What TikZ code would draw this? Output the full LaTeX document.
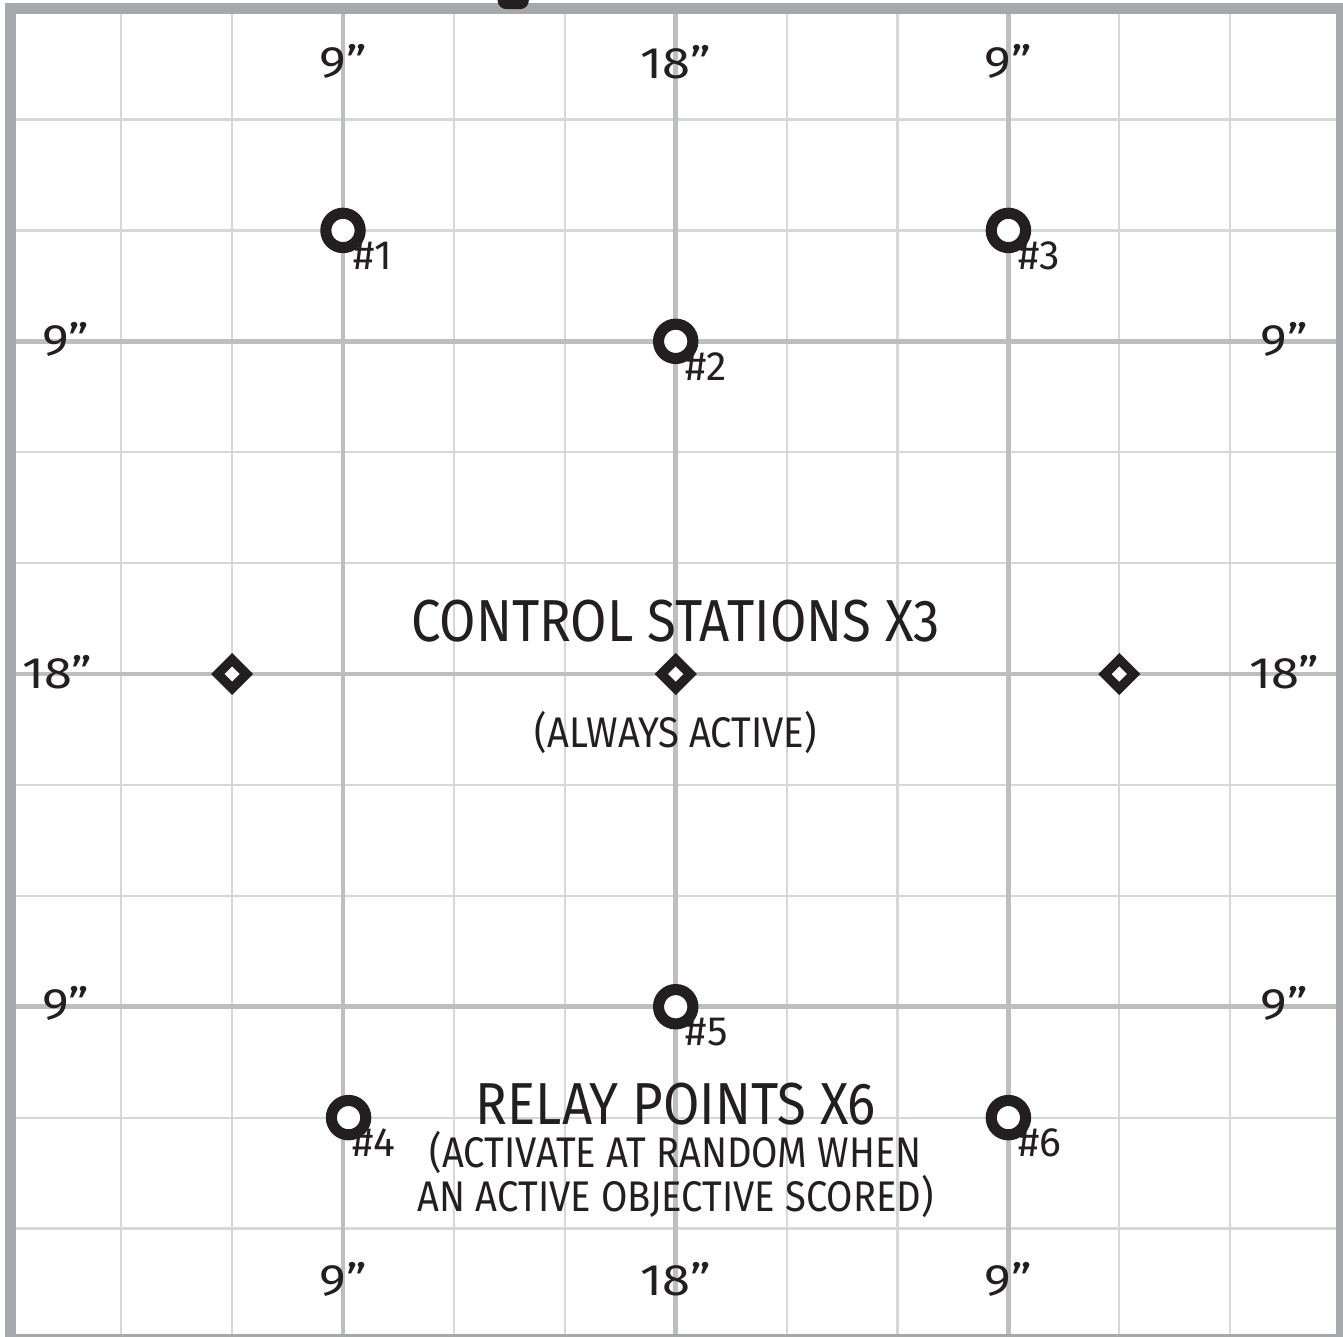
\documentclass[tikz,border=0pt]{standalone}
\usepackage{fontspec}
\setmainfont{Fira Sans}[FakeStretch=0.89]
\newfontfamily\widefont{Fira Sans}[FakeStretch=1.15]
\newfontfamily\numfont{Fira Sans}
\usetikzlibrary{shapes.geometric,positioning}
\definecolor{ink}{HTML}{231F20}
\definecolor{edgegray}{HTML}{A7A8AB}
\definecolor{majorgray}{HTML}{BDBEC0}
\definecolor{minorgray}{HTML}{D6D7D9}
\newcommand\fsz[1]{\fontsize{#1}{#1}\selectfont}

\begin{document}
\begin{tikzpicture}[
  objective/.style={circle,draw=ink,fill=white,line width=0.1cm,minimum size=0.31cm,inner sep=0},
  station/.style={inner sep=0,minimum size=0.4cm,
    path picture={
      \fill[ink,shift={(path picture bounding box.center)}]
        (0,0.19) -- (0.19,0) -- (0,-0.19) -- (-0.19,0) -- cycle;
      \fill[white,shift={(path picture bounding box.center)}]
        (0,0.068) -- (0.068,0) -- (0,-0.068) -- (-0.068,0) -- cycle;}},
  num/.style={text=ink,font=\numfont\fsz{10.5},inner sep=0,anchor=north west},
  dist/.style={text=ink,font=\widefont\fsz{11.3},inner sep=0},
  head/.style={text=ink,font=\fsz{15.2},inner sep=0},
  sub/.style={text=ink,font=\fsz{11},inner sep=0,align=center}]
\clip (-0.093,0.0225) rectangle (12.017,12.078);
\fill[white] (-0.093,0.0225) rectangle (12.017,12.078);
% grid
\draw[minorgray,line width=0.55pt] (0,0) grid (12,12);
\foreach \k in {3,6,9}{
  \draw[majorgray,line width=1.15pt] (\k,0) -- (\k,12);
  \draw[majorgray,line width=1.15pt] (0,\k) -- (12,\k);}
\draw[edgegray,line width=0.095cm] (0,0) rectangle (12,12);
% marker cut by the top edge
\fill[ink,rounded corners=0.08cm] (4.394,11.995) rectangle (4.676,12.4);
% distances
\node[dist] (t1) at (3,11.52) {9”};
\node[dist] (t2) at (6,11.52) {18”};
\node[dist] (t3) at (9,11.52) {9”};
\node[dist] (b1) at (3,0.54) {9”};
\node[dist] (b2) at (6,0.54) {18”};
\node[dist] (b3) at (9,0.54) {9”};
\node[dist] (l1) at (0.5,9.02) {9”};
\node[dist] (l2) at (0.42,6.02) {18”};
\node[dist] (l3) at (0.5,3.03) {9”};
\node[dist] (r1) at (11.49,9.02) {9”};
\node[dist] (r2) at (11.49,6.02) {18”};
\node[dist] (r3) at (11.49,3.03) {9”};
% control stations
\node[station] (s1) at (2,6) {};
\node[station] (s2) at (6,6) {};
\node[station] (s3) at (10,6) {};
\node[head] (cs) at (6,6.48) {CONTROL STATIONS X3};
\node[sub] (csnote) at (6,5.47) {(ALWAYS ACTIVE)};
% relay points
\node[objective] (o1) at (3,10) {};
\node[objective] (o2) at (6,9) {};
\node[objective] (o3) at (9,10) {};
\node[objective] (o4) at (3.05,2) {};
\node[objective] (o5) at (6,3) {};
\node[objective] (o6) at (9,2) {};
\foreach \i in {1,2,3,5,6}
  \node[num] (n\i) at ([shift={(0.085,-0.095)}]o\i.center) {\#\i};
\node[num] (n4) at ([shift={(0.03,-0.095)}]o4.center) {\#4};
\node[head] (rp) at (6,2.12) {RELAY POINTS X6};
\node[sub,font={\fontsize{11}{11.3}\selectfont}] (rpnote) at (6,1.49)
  {(ACTIVATE AT RANDOM WHEN\\AN ACTIVE OBJECTIVE SCORED)};
\end{tikzpicture}
\end{document}
